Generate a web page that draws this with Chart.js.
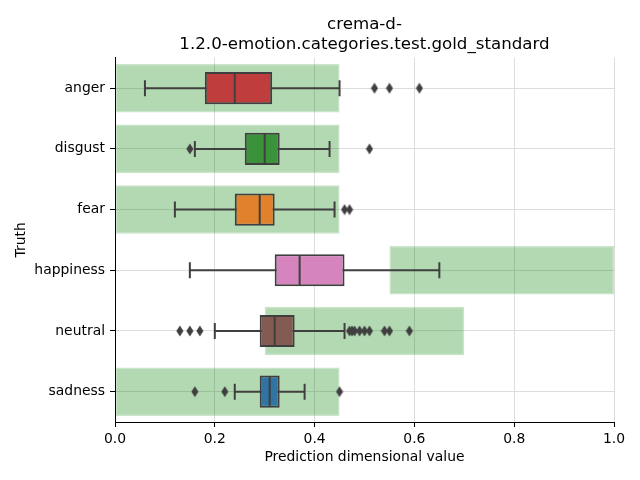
<!DOCTYPE html>
<html>
<head>
<meta charset="utf-8">
<script src="https://cdn.jsdelivr.net/npm/chart.js@4/dist/chart.umd.min.js"></script>
<style>
  html, body { margin: 0; padding: 0; background: #ffffff; }
  #wrap { width: 640px; height: 480px; }
</style>
</head>
<body>
<div id="wrap"><canvas id="c" width="640" height="480"></canvas></div>
<script>
// ---- data ----
const categories = ["anger", "disgust", "fear", "happiness", "neutral", "sadness"];
const whiskerLow  = [0.06, 0.16, 0.12, 0.15, 0.20, 0.24];
const q1          = [0.18, 0.26, 0.24, 0.32, 0.29, 0.29];
const median      = [0.24, 0.30, 0.29, 0.37, 0.32, 0.31];
const q3          = [0.315, 0.33, 0.32, 0.46, 0.36, 0.33];
const whiskerHigh = [0.45, 0.43, 0.44, 0.65, 0.46, 0.38];
const outliers = [
  [0.52, 0.55, 0.61],
  [0.15, 0.51],
  [0.46, 0.47],
  [],
  [0.13, 0.15, 0.17, 0.47, 0.475, 0.48, 0.49, 0.50, 0.51, 0.54, 0.55, 0.59],
  [0.16, 0.22, 0.45]
];
const rangeLow  = [0.0, 0.0, 0.0, 0.55, 0.30, 0.0];
const rangeHigh = [0.45, 0.45, 0.45, 1.0, 0.70, 0.45];
const xTicks = [0.0, 0.2, 0.4, 0.6, 0.8, 1.0];

// ---- styles ----
const boxColors = ["#c03d3e", "#3a923a", "#e1812c", "#d684bd", "#845b53", "#3274a1"];
const lineColor = "#3f3f3f";
const FONT = "'DejaVu Sans', sans-serif";

// thin diamond marker
function diamond() {
  const c = document.createElement('canvas');
  c.width = 8; c.height = 12;
  const g = c.getContext('2d');
  g.fillStyle = lineColor;
  g.beginPath();
  g.moveTo(4, 0.5); g.lineTo(7.5, 6); g.lineTo(4, 11.5); g.lineTo(0.5, 6);
  g.closePath(); g.fill();
  return c;
}
const diamondImg = diamond();

const datasets = [];
// outliers (top-most)
const outPts = [];
outliers.forEach((arr, i) => arr.forEach(v => outPts.push({x: v, y: categories[i]})));
datasets.push({
  type: 'line', label: 'outliers', data: outPts, showLine: false,
  pointStyle: diamondImg, pointRadius: 5, order: 0
});
// medians
datasets.push({
  type: 'line', label: 'median', showLine: false,
  data: categories.map((c, i) => ({x: median[i], y: c})),
  pointStyle: 'line', rotation: 90, pointRadius: 15, pointBorderWidth: 2,
  pointBorderColor: lineColor, order: 1
});
// caps
const capPts = [];
categories.forEach((c, i) => { capPts.push({x: whiskerLow[i], y: c}); capPts.push({x: whiskerHigh[i], y: c}); });
datasets.push({
  type: 'line', label: 'caps', showLine: false, data: capPts,
  pointStyle: 'line', rotation: 90, pointRadius: 8, pointBorderWidth: 2,
  pointBorderColor: lineColor, order: 1
});
// boxes
datasets.push({
  type: 'bar', label: 'box', grouped: false,
  data: categories.map((c, i) => [q1[i], q3[i]]),
  backgroundColor: boxColors, borderColor: lineColor, borderWidth: 2,
  borderSkipped: false, barPercentage: 0.53, categoryPercentage: 1, order: 2
});
// whiskers
categories.forEach((c, i) => {
  datasets.push({
    type: 'line', label: 'whisker-' + c,
    data: [{x: whiskerLow[i], y: c}, {x: whiskerHigh[i], y: c}],
    borderColor: lineColor, borderWidth: 2, pointRadius: 0, order: 3
  });
});
// range bands
datasets.push({
  type: 'bar', label: 'range', grouped: false,
  data: categories.map((c, i) => [rangeLow[i], rangeHigh[i]]),
  backgroundColor: 'rgba(0,128,0,0.3)', borderColor: 'rgba(40,150,40,0.25)', borderWidth: 1.5,
  borderSkipped: false, barPercentage: 0.8, categoryPercentage: 1, order: 4
});

new Chart(document.getElementById('c'), {
  type: 'bar',
  data: { labels: categories, datasets: datasets },
  options: {
    indexAxis: 'y',
    responsive: false,
    animation: false,
    events: [],
    layout: { padding: { left: 12, right: 26, top: 0, bottom: 8 } },
    plugins: {
      legend: { display: false },
      tooltip: { enabled: false },
      title: {
        display: true, fullSize: false,
        text: ["crema-d-", "1.2.0-emotion.categories.test.gold_standard"],
        color: '#000', font: { family: FONT, size: 16.67, weight: 'normal', lineHeight: 1.24 },
        padding: { top: 14, bottom: 2.5 }
      }
    },
    scales: {
      x: {
        type: 'linear', min: 0, max: 1,
        afterBuildTicks: (s) => { s.ticks = xTicks.map(v => ({value: v})); },
        afterFit: (s) => { s.height = 50; },
        ticks: { callback: (v) => Number(v).toFixed(1), color: '#000', padding: 4,
                 font: { family: FONT, size: 13.9 }, maxRotation: 0 },
        grid: { color: '#dddddd', lineWidth: 1, tickColor: '#000', tickLength: 5, tickWidth: 1 },
        border: { color: '#000', width: 1 },
        title: { display: true, text: 'Prediction dimensional value', color: '#000',
                 font: { family: FONT, size: 13.9 }, padding: { top: 0, bottom: 6.5 } }
      },
      y: {
        type: 'category', offset: true,
        afterFit: (s) => { s.width = 103; },
        ticks: { color: '#000', padding: 5, font: { family: FONT, size: 13.9 } },
        grid: { offset: false, color: '#dddddd', lineWidth: 1, tickColor: '#000', tickLength: 5, tickWidth: 1 },
        border: { color: '#000', width: 1 },
        title: { display: true, text: 'Truth', color: '#000',
                 font: { family: FONT, size: 13.9 }, padding: { top: 1, bottom: 0 } }
      }
    }
  }
});
</script>
</body>
</html>
